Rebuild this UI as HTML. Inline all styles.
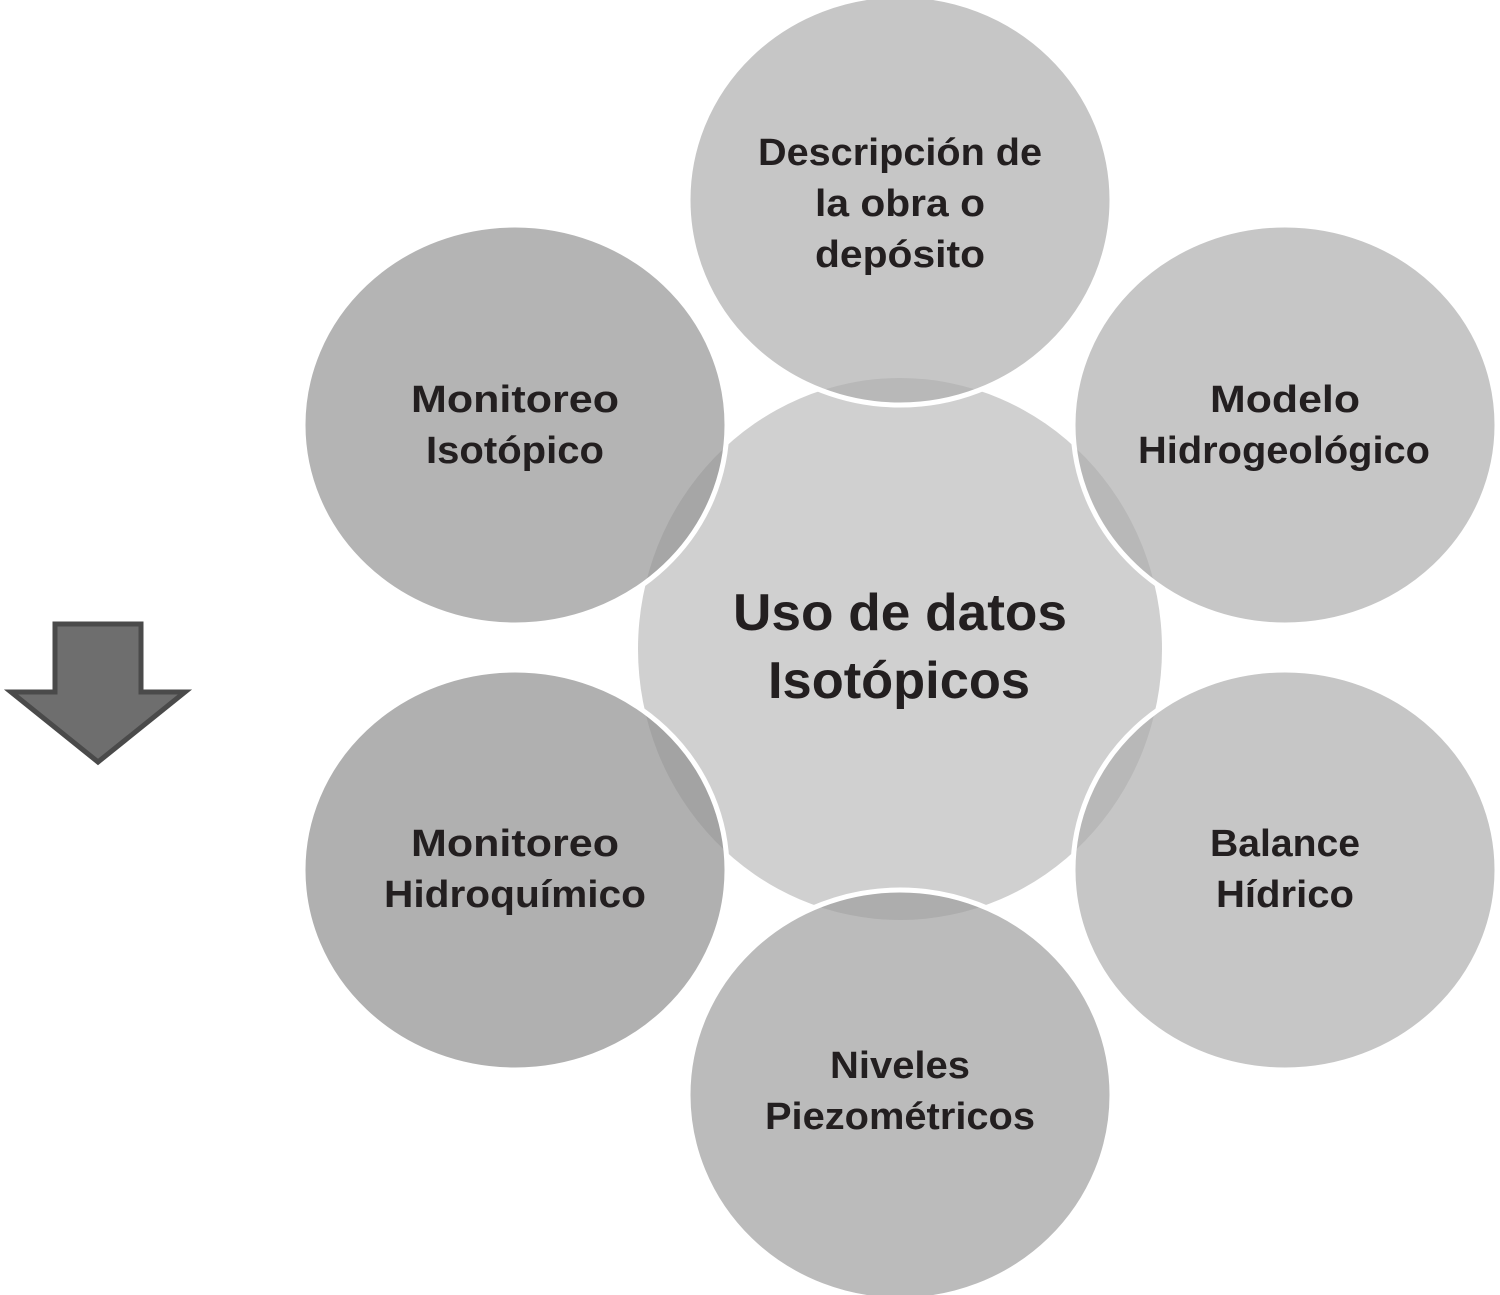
<!DOCTYPE html>
<html><head><meta charset="utf-8"><style>html,body{margin:0;padding:0;background:#fff}svg{display:block}</style></head>
<body>
<svg width="1500" height="1295" viewBox="0 0 1500 1295" xmlns="http://www.w3.org/2000/svg">
<ellipse cx="900" cy="649" rx="262" ry="271" fill="#d0d0d0"/>
<g stroke="#fff" stroke-width="5">
<ellipse cx="900" cy="200" rx="212" ry="205" fill="#adadad" fill-opacity="0.69"/>
<ellipse cx="515" cy="425" rx="212" ry="200" fill="#929292" fill-opacity="0.69"/>
<ellipse cx="1285" cy="425" rx="212" ry="200" fill="#adadad" fill-opacity="0.69"/>
<ellipse cx="515" cy="870" rx="212" ry="200" fill="#929292" fill-opacity="0.72"/>
<ellipse cx="1285" cy="870" rx="212" ry="200" fill="#adadad" fill-opacity="0.69"/>
<ellipse cx="900" cy="1095" rx="212" ry="205" fill="#9c9c9c" fill-opacity="0.69"/>
</g>
<polygon points="55,624 141,624 141,692 185,692 98,762 11,692 55,692" fill="#6e6e6e" stroke="#4a4a4a" stroke-width="5" stroke-linejoin="miter"/>
<g font-family="Liberation Sans, sans-serif" font-weight="bold" fill="#231f20" font-size="38" text-anchor="middle">
<text x="900" y="165" textLength="284" lengthAdjust="spacingAndGlyphs">Descripción de</text>
<text x="900" y="216" textLength="170" lengthAdjust="spacingAndGlyphs">la obra o</text>
<text x="900" y="267" textLength="170" lengthAdjust="spacingAndGlyphs">depósito</text>
<text x="515" y="412" textLength="208" lengthAdjust="spacingAndGlyphs">Monitoreo</text>
<text x="515" y="463" textLength="178" lengthAdjust="spacingAndGlyphs">Isotópico</text>
<text x="1285" y="412" textLength="150" lengthAdjust="spacingAndGlyphs">Modelo</text>
<text x="1284" y="463" textLength="292" lengthAdjust="spacingAndGlyphs">Hidrogeológico</text>
<text x="515" y="856" textLength="208" lengthAdjust="spacingAndGlyphs">Monitoreo</text>
<text x="515" y="907" textLength="262" lengthAdjust="spacingAndGlyphs">Hidroquímico</text>
<text x="1285" y="856" textLength="150" lengthAdjust="spacingAndGlyphs">Balance</text>
<text x="1285" y="907" textLength="138" lengthAdjust="spacingAndGlyphs">Hídrico</text>
<text x="900" y="1078" textLength="140" lengthAdjust="spacingAndGlyphs">Niveles</text>
<text x="900" y="1129" textLength="270" lengthAdjust="spacingAndGlyphs">Piezométricos</text>
<text x="900" y="630" font-size="52" textLength="334" lengthAdjust="spacingAndGlyphs">Uso de datos</text>
<text x="899" y="698" font-size="52" textLength="262" lengthAdjust="spacingAndGlyphs">Isotópicos</text>
</g>
</svg>
</body></html>
